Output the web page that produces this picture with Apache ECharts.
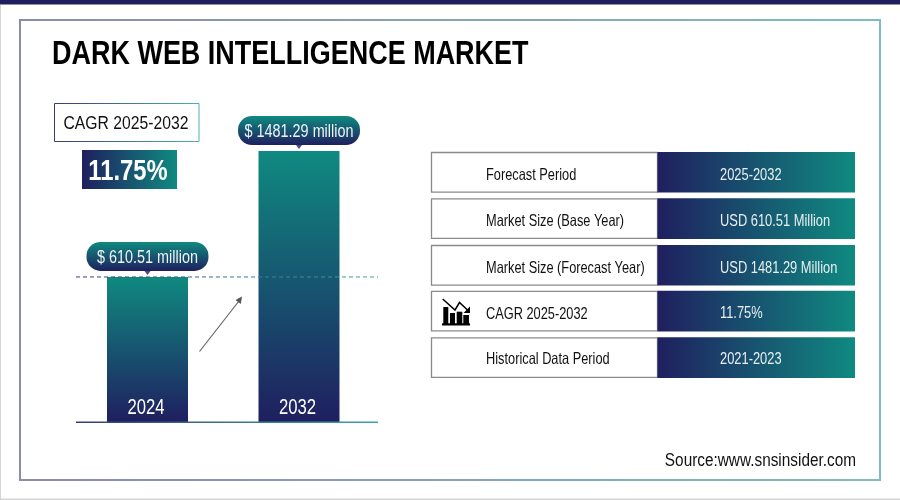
<!DOCTYPE html>
<html><head><meta charset="utf-8">
<style>html,body{margin:0;padding:0;background:#fff}#c{width:900px;height:500px}</style>
<script src="https://cdn.jsdelivr.net/npm/echarts@6/dist/echarts.min.js"></script>
</head><body><div id="c"></div>
<script>
const years = ['2024', '2032'];
const marketSize = [610.51, 1481.29];
const bubbleLabels = ['$ 610.51 million', '$ 1481.29 million'];
const rowNames = ['Forecast Period', 'Market Size (Base Year)', 'Market Size (Forecast Year)', 'CAGR 2025-2032', 'Historical Data Period'];
const rowValues = ['2025-2032', 'USD 610.51 Million', 'USD 1481.29 Million', '11.75%', '2021-2023'];
const titleText = 'DARK WEB INTELLIGENCE MARKET';
const cagrLabel = 'CAGR 2025-2032';
const cagrValue = '11.75%';
const sourceText = 'Source:www.snsinsider.com';

const NAVY = '#1f1f5f', TEAL = '#0f8a80';
const FONT = '"Liberation Sans",Arial,sans-serif';
const grad = (x, y, x2, y2, a, b) => new echarts.graphic.LinearGradient(x, y, x2, y2, [{offset:0,color:a},{offset:1,color:b}]);
const chart = echarts.init(document.getElementById('c'), null, {renderer:'canvas'});

chart.setOption({
  animation:false, backgroundColor:'#fff',
  grid:{left:71.75, width:303, top:151, height:271, containLabel:false},
  xAxis:{type:'category', data:years, axisLine:{show:false}, axisTick:{show:false}, axisLabel:{show:false}},
  yAxis:{type:'log', min:220, max:1481.29, show:false, splitLine:{show:false}},
  series:[
    {type:'bar', data:marketSize, barWidth:81, z:3, itemStyle:{color:grad(0,0,0,1,TEAL,NAVY)}},
    {type:'scatter', data:marketSize, symbol:'triangle', symbolRotate:180, symbolSize:[9,6], symbolOffset:[0,-5],
      itemStyle:{color:NAVY}, z:4, silent:true}
  ]
});

const yRef = chart.convertToPixel({yAxisIndex:0}, marketSize[0]);
const yBase = chart.convertToPixel({yAxisIndex:0}, 220);

const els = [];
const txt = (x,y,text,size,color,opt={}) => els.push({type:'text', x, y:y+1.5, z:opt.z||20, scaleX:opt.sx||1,
  style:{text, fontFamily:FONT, fontSize:size, fontWeight:opt.weight||'normal', fill:color, textAlign:opt.align||'left', textVerticalAlign:'middle'}});
const rect = (x,y,w,h,style,z=10,r=0) => els.push({type:'rect', shape:{x,y,width:w,height:h,r}, style, z});

rect(0,0,900,4.5,{fill:NAVY});
rect(0,5,1,495,{fill:'#d4d4d4'});
rect(0,498.5,900,1.5,{fill:'#d4d4d4'});
rect(20,20,860,460,{fill:'none', stroke:grad(0,0,1,0,'#8b8bab','#7fbcc0'), lineWidth:2},1);

txt(52,53.5,titleText,32.5,'#000',{weight:'bold', sx:0.83});

rect(54.5,103.5,144.5,38,{fill:'#fff', stroke:grad(0,0,1,0,'#3a3a78','#4fb0b0'), lineWidth:1});
txt(126,122.7,cagrLabel,18.5,'#111',{align:'center', sx:0.85});
rect(82,150,95,39,{fill:grad(0,0,1,0,NAVY,TEAL)});
txt(128,170,cagrValue,29,'#fff',{align:'center',weight:'bold', sx:0.82});

// value bubbles and year labels, placed from the chart's own scale
years.forEach((yr,i)=>{
  const [cx, top] = chart.convertToPixel({xAxisIndex:0,yAxisIndex:0}, [i, marketSize[i]]);
  rect(cx-61, top-35, 122, 29, {fill:grad(0,0,0,1,TEAL,NAVY)}, 6, 14);
  txt(cx, top-20.5, bubbleLabels[i], 18, '#eef4f6', {align:'center', sx:0.8, z:7});
  txt(cx-1.5, yBase-16, yr, 22, '#fff', {align:'center', sx:0.76, z:7});
});

// rules
els.push({type:'line', shape:{x1:76,y1:yRef,x2:378,y2:yRef}, z:5, style:{stroke:grad(0,0,1,0,'#3a3a78','#3aa6a6'), lineWidth:1, lineDash:[4,3]}});
els.push({type:'line', shape:{x1:76,y1:yBase+0.3,x2:378,y2:yBase+0.3}, z:5, style:{stroke:grad(0,0,1,0,'#3a3a78','#3aa6a6'), lineWidth:1.4}});

// arrow
els.push({type:'line', shape:{x1:199.5,y1:351.5,x2:239,y2:301}, z:5, style:{stroke:'#666', lineWidth:1.2}});
els.push({type:'polygon', shape:{points:[[242,296.5],[240.8,304],[235.5,300]]}, z:5, style:{fill:'#555'}});

// table
const rowTop = [152,198.3,245,290.8,337.3];
const rowH = 40.6;
const nameNudge = [1.2,1,1.5,1.5,0];
const valueNudge = [1.5,1,1.5,0.5,0];
rowNames.forEach((name,i)=>{
  const y = rowTop[i];
  rect(431.5,y+0.5,226,rowH-1,{fill:'#fff', stroke:'#8a8a8a', lineWidth:1.3});
  rect(657.5,y,197.5,rowH,{fill:grad(0,0,1,0,NAVY,TEAL)},11);
  txt(486,y+rowH/2+nameNudge[i],name,16.5,'#111',{z:21, sx:0.775});
  txt(720,y+rowH/2+valueNudge[i],rowValues[i],16.5,'#e8eef2',{z:21, sx:0.78});
});

// icon
[[443.3,307,5],[450,313,5],[456.7,311.7,5.6],[463.3,315,5.7]].forEach(b=>rect(b[0],b[1],b[2],324-b[1],{fill:'#000'},12));
rect(442,323.3,28,2.2,{fill:'#000'},12);
els.push({type:'polyline', shape:{points:[[442.7,299],[455,310],[459.5,302.5],[468,310.5]]}, z:12, style:{stroke:'#000', lineWidth:1.5, fill:'none'}});
els.push({type:'polygon', shape:{points:[[470,313],[470,306.5],[463.5,313]]}, z:12, style:{fill:'#000'}});

txt(856,460,sourceText,18,'#111',{align:'right', sx:0.853});
chart.setOption({graphic:{elements:els}});
</script></body></html>
